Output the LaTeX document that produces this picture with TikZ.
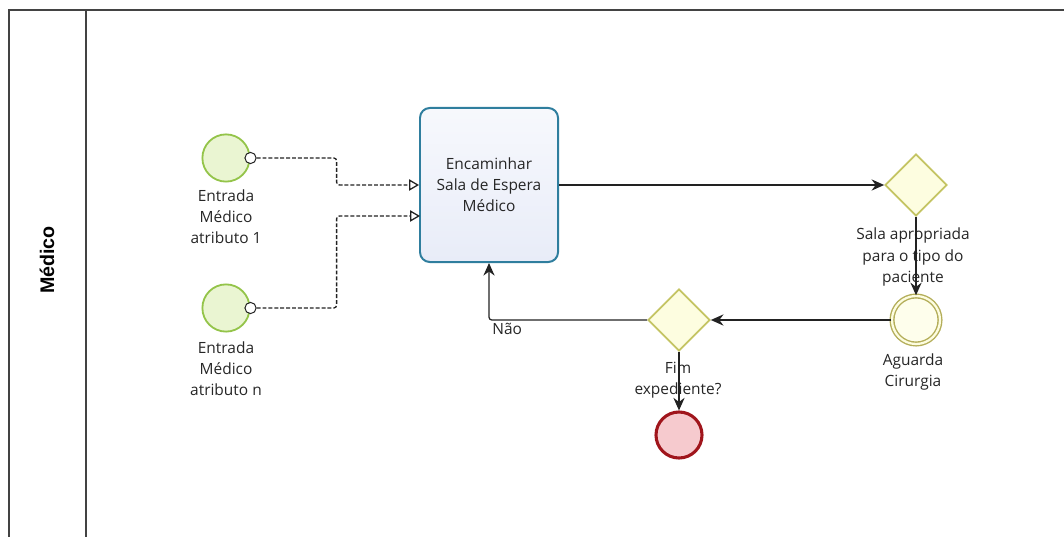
\documentclass[tikz,border=0pt]{standalone}
\usepackage{fontspec}
\setmainfont{Open Sans}
\newfontfamily\lanefont{Liberation Sans}
\usetikzlibrary{arrows.meta,shapes.geometric}
\definecolor{lineclr}{HTML}{222222}
\definecolor{txtclr}{HTML}{262626}
\definecolor{startline}{HTML}{94C44A}
\definecolor{startfill}{HTML}{EAF5D2}
\definecolor{taskline}{HTML}{2F7E9E}
\definecolor{taskfill}{HTML}{E8ECF8}
\definecolor{gateline}{HTML}{C4C463}
\definecolor{gatefill}{HTML}{FDFDE0}
\definecolor{ieline}{HTML}{B4AE5A}
\definecolor{endline}{HTML}{A0151C}
\definecolor{endfill}{HTML}{F6CACE}
\begin{document}
\begin{tikzpicture}[x=0.025cm,y=-0.025cm,
  every node/.style={font=\fontsize{11}{15}\selectfont,text=txtclr},
  lbl/.style={align=center,inner sep=1pt},
  startev/.style={circle,draw=startline,fill=startfill,line width=1.3pt,minimum size=1.18cm,inner sep=0pt},
  msgdot/.style={circle,draw=lineclr,fill=white,line width=0.7pt,minimum size=0.28cm,inner sep=0pt},
  taskbox/.style={rectangle,rounded corners=7pt,draw=taskline,line width=1.4pt,top color=taskfill!35!white,bottom color=taskfill,minimum width=3.45cm,minimum height=3.85cm,align=center},
  gate/.style={diamond,draw=gateline,fill=gatefill,line width=1.2pt,minimum size=1.55cm,inner sep=0pt},
  interev/.style={circle,draw=ieline,double=gatefill,double distance=1.6pt,line width=1pt,fill=gatefill!60!white,minimum size=1.2cm,inner sep=0pt},
  endev/.style={circle,draw=endline,fill=endfill,line width=2.2pt,minimum size=1.15cm,inner sep=0pt},
  seq/.style={draw=lineclr,line width=0.9pt,rounded corners=2pt,-{Stealth[length=9pt,width=8pt,inset=3pt]}},
  msg/.style={draw=lineclr,line width=0.9pt,dash pattern=on 2.8pt off 1.4pt,rounded corners=2pt,-{Triangle[open,length=7pt,width=8pt]}},
  pool/.style={draw=lineclr!85,line width=1.1pt}]
\useasboundingbox (0,0) rectangle (1064,537);
% pool and lane
\draw[pool] (1064,10) -- (9,10) -- (9,537);
\draw[pool] (86,10) -- (86,537);
\node[rotate=90,font=\lanefont\bfseries\fontsize{14}{16}\selectfont,text=black] (lane) at (47,260) {Médico};
% events, task and gateways
\node[startev] (s1) at (226,158) {};
\node[msgdot] (s1o) at (s1.east) {};
\node[startev] (s2) at (226,308) {};
\node[msgdot] (s2o) at (s2.east) {};
\node[taskbox] (task) at (489,185) {Encaminhar\\Sala de Espera\\Médico};
\node[gate] (gw1) at (916,185) {};
\node[interev] (ie) at (916,320) {};
\node[gate] (gw2) at (679,320) {};
\node[endev] (fim) at (679,435) {};
% labels
\node[lbl] (s1lbl) at (226,217) {Entrada\\Médico\\atributo 1};
\node[lbl] (s2lbl) at (226,369) {Entrada\\Médico\\atributo n};
\node[lbl] (gw1lbl) at (913,257) {Sala apropriada\\para o tipo do\\paciente};
\node[lbl] (ielbl) at (913,372) {Aguarda\\Cirurgia};
\node[lbl] (gw2lbl) at (678,380) {Fim\\expediente?};
% flows
\coordinate (in2) at (420,216);
\draw[msg] (s1o.east) -- ++(80,0) |- (task.west);
\draw[msg] (s2o.east) -- ++(80,0) |- (in2);
\draw[seq] (task.east) -- (gw1.west);
\draw[seq] (gw1.south) -- (ie.north);
\draw[seq] (ie.west) -- (gw2.east);
\draw[seq] (gw2.west) -| (task.south) node[pos=0.5,anchor=north west,inner sep=2pt] (nao) {Não};
\draw[seq] (gw2.south) -- (fim.north);
\end{tikzpicture}
\end{document}
